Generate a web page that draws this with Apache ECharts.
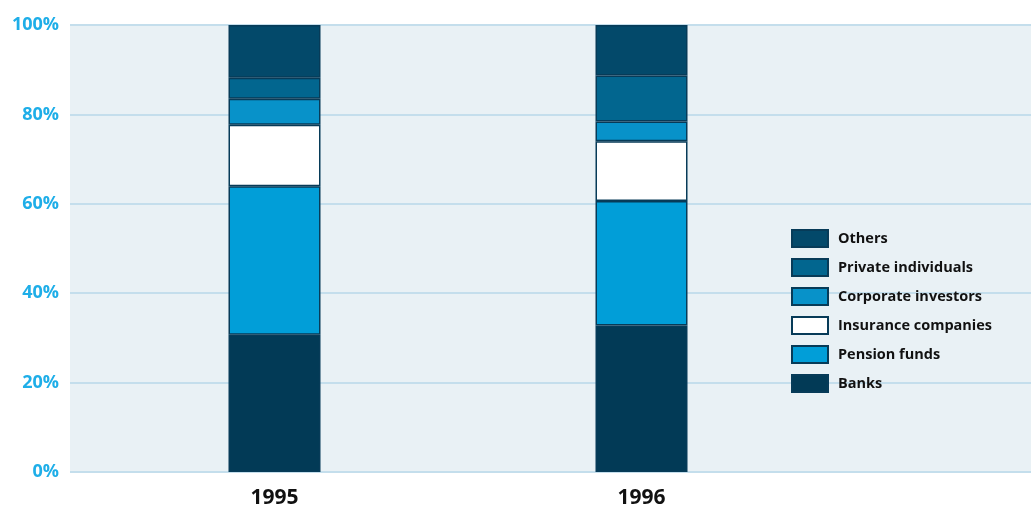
<!DOCTYPE html>
<html>
<head>
<meta charset="utf-8">
<script src="https://cdn.jsdelivr.net/npm/echarts@6/dist/echarts.min.js"></script>
<style>
  html, body { margin: 0; padding: 0; background: #fff; }
  #chart { width: 1031px; height: 510px; }
</style>
</head>
<body>
<div id="chart"></div>
<script>
const years = ['1995', '1996'];

// share of capital by holder (%), bottom to top of the stack
const banks = [30.7, 32.8];
const pensionFunds = [33.2, 27.8];
const insuranceCompanies = [13.8, 13.4];
const corporateInvestors = [5.8, 4.4];
const privateIndividuals = [4.7, 10.3];
const others = [11.8, 11.3];

const yTicks = [0, 20, 40, 60, 80, 100];

const holders = [
  {name: 'Banks', data: banks, color: '#023a56'},
  {name: 'Pension funds', data: pensionFunds, color: '#019ed8'},
  {name: 'Insurance companies', data: insuranceCompanies, color: '#ffffff'},
  {name: 'Corporate investors', data: corporateInvestors, color: '#0892c9'},
  {name: 'Private individuals', data: privateIndividuals, color: '#02668f'},
  {name: 'Others', data: others, color: '#03496a'},
];

const chart = echarts.init(document.getElementById('chart'));

const options = {
  animation: false,
  textStyle: {fontFamily: 'Open Sans'},
  legend: {
    orient: 'vertical',
    left: 791,
    top: 229,
    padding: 0,
    itemWidth: 36,
    itemHeight: 17,
    itemGap: 10,
    icon: 'rect',
    data: holders.map(h => h.name).reverse(),
    textStyle: {fontSize: 14.5, fontWeight: 'bold', color: '#111', padding: [0, 0, 0, 5]},
  },
  grid: [
    // background + percentage scale
    {left: 70, right: 0, top: 25, bottom: 38, show: true, backgroundColor: '#e9f1f5', borderWidth: 0},
    // bars: two category slots of 367px so the bars sit where they do in the original
    {left: 91, width: 734, top: 25, bottom: 38},
  ],
  xAxis: [
    {gridIndex: 0, type: 'category', data: [''], show: false},
    {
      gridIndex: 1,
      type: 'category',
      data: years,
      axisLine: {show: false},
      axisTick: {show: false},
      axisLabel: {fontSize: 21, fontWeight: 'bold', color: '#111', margin: 16},
    },
  ],
  yAxis: [
    {
      gridIndex: 0,
      type: 'value',
      min: yTicks[0],
      max: yTicks[yTicks.length - 1],
      interval: 20,
      axisLine: {show: false},
      axisTick: {show: false},
      splitLine: {lineStyle: {color: '#c4deec', width: 2}},
      axisLabel: {
        fontSize: 18,
        fontWeight: 'bold',
        color: '#1eaee8',
        margin: 11,
        formatter: v => v + '%',
      },
    },
    {gridIndex: 1, type: 'value', min: 0, max: 100, show: false},
  ],
  series: holders.map(h => ({
    name: h.name,
    type: 'bar',
    stack: 'total',
    xAxisIndex: 1,
    yAxisIndex: 1,
    barWidth: 92,
    data: h.data,
    itemStyle: {color: h.color, borderColor: '#073b58', borderWidth: 1.5},
  })),
};

chart.setOption(options);
</script>
</body>
</html>
